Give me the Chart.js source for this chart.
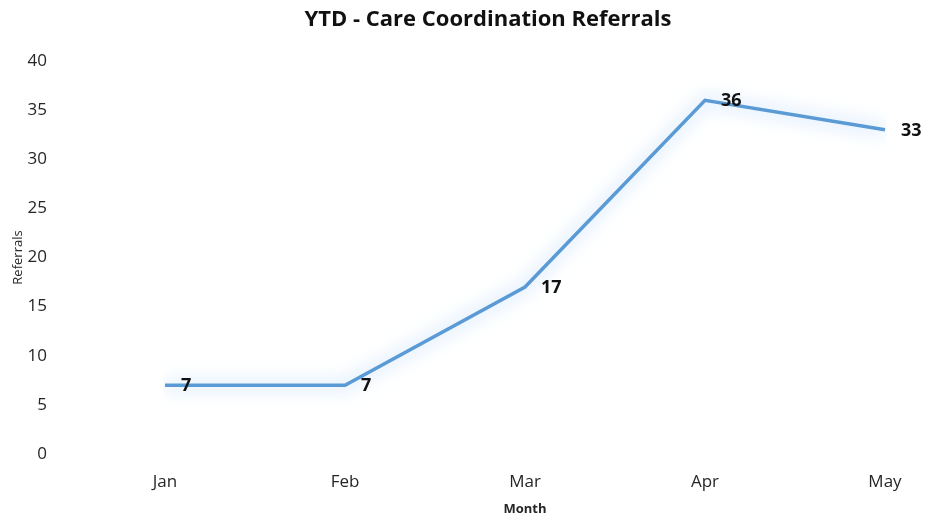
<!DOCTYPE html>
<html>
<head>
<meta charset="utf-8">
<script src="https://cdn.jsdelivr.net/npm/chart.js@4"></script>
<style>
  html, body { margin: 0; padding: 0; background: #fff; }
  #wrap { width: 925px; height: 519px; }
</style>
</head>
<body>
<div id="wrap"><canvas id="chart" width="925" height="519"></canvas></div>
<script>
var months = ['Jan', 'Feb', 'Mar', 'Apr', 'May'];
var referrals = [7, 7, 17, 36, 33];
var yTicks = [0, 5, 10, 15, 20, 25, 30, 35, 40];

var fontFamily = '"Open Sans", "Noto Sans", "Liberation Sans", sans-serif';

// soft blue glow under the line, like the Excel effect
var glowPlugin = {
    id: 'glow',
    beforeDatasetDraw: function (chart) {
        var ctx = chart.ctx;
        ctx.save();
        ctx.shadowColor = 'rgba(140, 190, 245, 0.9)';
        ctx.shadowBlur = 18;
    },
    afterDatasetDraw: function (chart) {
        chart.ctx.restore();
    }
};

// value labels right of each point + the title
var labelPlugin = {
    id: 'labels',
    afterDatasetsDraw: function (chart) {
        var ctx = chart.ctx;
        var meta = chart.getDatasetMeta(0);
        ctx.save();
        ctx.font = 'bold 18px ' + fontFamily;
        ctx.fillStyle = '#111';
        ctx.textAlign = 'left';
        ctx.textBaseline = 'middle';
        meta.data.forEach(function (pt, i) {
            ctx.fillText(String(referrals[i]), pt.x + 16, pt.y + 1);
        });
        ctx.font = 'bold 22px ' + fontFamily;
        ctx.textAlign = 'center';
        ctx.fillText('YTD - Care Coordination Referrals', 488, 20);
        ctx.restore();
    }
};

var ctx = document.getElementById('chart').getContext('2d');
var myChart = new Chart(ctx, {
    type: 'line',
    data: {
        labels: months,
        datasets: [{
            label: 'Referrals',
            data: referrals,
            borderColor: '#5b9bd5',
            borderWidth: 3.5,
            pointRadius: 0,
            tension: 0,
            fill: false
        }]
    },
    options: {
        responsive: false,
        animation: false,
        layout: {
            padding: { left: 5, right: 40, top: 61, bottom: 2 }
        },
        plugins: {
            legend: { display: false },
            tooltip: { enabled: false },
            title: { display: false }
        },
        scales: {
            x: {
                offset: false,
                afterFit: function (axis) {
                    axis.height = 63;
                },
                grid: { display: false },
                border: { display: false },
                ticks: {
                    color: '#262626',
                    padding: 10,
                    maxRotation: 0,
                    font: { size: 17, family: fontFamily }
                },
                title: {
                    display: true,
                    text: 'Month',
                    color: '#262626',
                    padding: { top: 0, bottom: 0 },
                    font: { size: 13, weight: 'bold', family: fontFamily }
                }
            },
            y: {
                weight: 1,
                min: 0,
                max: 40,
                afterBuildTicks: function (axis) {
                    axis.ticks = yTicks.map(function (v) { return { value: v }; });
                },
                afterFit: function (axis) {
                    axis.width = 55;
                },
                grid: { display: false },
                border: { display: false },
                ticks: {
                    color: '#262626',
                    padding: 5,
                    font: { size: 17, family: fontFamily }
                },
                title: {
                    display: true,
                    text: 'Referrals',
                    color: '#262626',
                    padding: { top: 5, bottom: 0 },
                    font: { size: 13, family: fontFamily }
                }
            },
            // empty gap between the tick labels and the first month
            gap: {
                type: 'linear',
                position: 'left',
                weight: 0,
                afterFit: function (axis) {
                    axis.width = 105;
                },
                grid: { display: false },
                border: { display: false },
                ticks: { display: false }
            }
        }
    },
    plugins: [glowPlugin, labelPlugin]
});
</script>
</body>
</html>
